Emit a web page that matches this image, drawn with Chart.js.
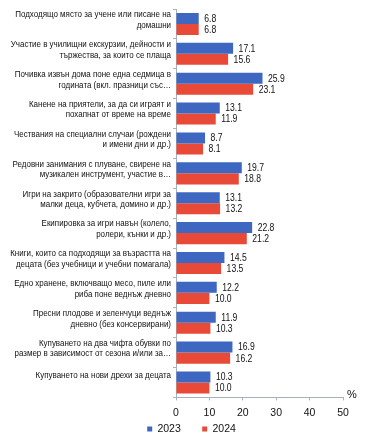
<!DOCTYPE html>
<html><head><meta charset="utf-8">
<script src="https://cdn.jsdelivr.net/npm/chart.js@4/dist/chart.umd.min.js"></script>
<style>html,body{margin:0;padding:0;background:#fff}#w{width:370px;height:437px}</style>
</head><body><div id="w"><canvas id="c" width="370" height="437"></canvas></div>
<script>
const categories = [
  ["Подходящо място за учене или писане на", "домашни"],
  ["Участие в училищни екскурзии, дейности и", "тържества, за които се плаща"],
  ["Почивка извън дома поне една седмица в", "годината (вкл. празници със…"],
  ["Канене на приятели, за да си играят и", "похапнат от време на време"],
  ["Чествания на специални случаи (рождени", "и имени дни и др.)"],
  ["Редовни занимания с плуване, свирене на", "музикален инструмент, участие в…"],
  ["Игри на закрито (образователни игри за", "малки деца, кубчета, домино и др.)"],
  ["Екипировка за игри навън (колело,", "ролери, кънки и др.)"],
  ["Книги, които са подходящи за възрастта на", "децата (без учебници и учебни помагала)"],
  ["Едно хранене, включващо месо, пиле или", "риба поне веднъж дневно"],
  ["Пресни плодове и зеленчуци веднъж", "дневно (без консервирани)"],
  ["Купуването на два чифта обувки по", "размер в зависимост от сезона и/или за…"],
  ["Купуването на нови дрехи за децата"]
];
const values2023 = [6.8, 17.1, 25.9, 13.1, 8.7, 19.7, 13.1, 22.8, 14.5, 12.2, 11.9, 16.9, 10.3];
const values2024 = [6.8, 15.6, 23.1, 11.9, 8.1, 18.8, 13.2, 21.2, 13.5, 10.0, 10.3, 16.2, 10.0];
const xTicks = [0, 10, 20, 30, 40, 50];
const unitLabel = "%";

const FONT = "'Liberation Sans', Arial, sans-serif";
const AXIS_COLOR = '#a9b1bd';

const customText = {
  id: 'customText',
  afterLayout(chart) {
    const lg = chart.legend;
    if (!lg) return;
    const P = lg.options.labels.padding;
    const dy = (chart.height - 8) - (lg.top + P + 5.25);
    lg.top += dy;
    lg.bottom = chart.height;
    lg.height = lg.bottom - lg.top;
    lg.left += 18; lg.right += 18;
  },
  afterDraw(chart) {
    const ctx = chart.ctx;
    const ys = chart.scales.y;
    const a = chart.chartArea;
    ctx.save();
    // category labels
    ctx.fillStyle = "#111";
    ctx.textAlign = "right";
    ctx.textBaseline = "middle";
    ctx.font = "9.5px " + FONT;
    const sx = 0.84;
    chart.data.labels.forEach((lab, i) => {
      const lines = Array.isArray(lab) ? lab : [lab];
      const c = ys.getPixelForTick(i);
      const lh = 10.5;
      const mid = lines.length > 1 ? c - 4 : c - 7;
      const y0 = mid - (lines.length - 1) * lh / 2;
      lines.forEach((ln, k) => {
        ctx.save();
        ctx.translate(171, y0 + k * lh);
        ctx.scale(sx, 1);
        ctx.fillText(ln, 0, 0);
        ctx.restore();
      });
    });
    // value labels
    ctx.textAlign = "left";
    ctx.font = "10.5px " + FONT;
    chart.data.datasets.forEach((ds, i) => {
      chart.getDatasetMeta(i).data.forEach((el, j) => {
        ctx.save();
        ctx.translate(el.x + 5.5, el.y + 0.5);
        ctx.scale(0.82, 1);
        ctx.fillText(ds.data[j].toFixed(1), 0, 0);
        ctx.restore();
      });
    });
    // unit
    ctx.font = "11px " + FONT;
    ctx.textBaseline = "alphabetic";
    ctx.fillText(unitLabel, a.right + 4, a.bottom + 1);
    ctx.restore();
  }
};

new Chart(document.getElementById('c'), {
  type: 'bar',
  data: {
    labels: categories,
    datasets: [
      { label: '2023', data: values2023, backgroundColor: '#3d67c1', categoryPercentage: 0.74, barPercentage: 1.0 },
      { label: '2024', data: values2024, backgroundColor: '#e84a37', categoryPercentage: 0.74, barPercentage: 1.0 }
    ]
  },
  options: {
    indexAxis: 'y',
    responsive: false,
    animation: false,
    devicePixelRatio: 1,
    layout: { padding: { left: 4, right: 27, top: 9, bottom: 0 } },
    plugins: {
      legend: {
        position: 'bottom',
        maxHeight: 12,
        labels: { boxWidth: 5, boxHeight: 5, font: { size: 10.5, family: FONT }, color: '#111', padding: 21.4 }
      },
      tooltip: { enabled: false }
    },
    scales: {
      x: {
        min: 0, max: 50,
        afterBuildTicks(s) { s.ticks = xTicks.map(v => ({ value: v })); },
        grid: { display: true, drawOnChartArea: false, drawTicks: true, tickLength: 3, color: AXIS_COLOR },
        border: { display: true, color: AXIS_COLOR },
        ticks: { font: { size: 10.5, family: FONT }, color: '#111', padding: 6 }
      },
      y: {
        afterFit(s) { s.width = 172; },
        grid: { display: true, drawOnChartArea: false, drawTicks: true, tickLength: 3, color: AXIS_COLOR },
        border: { display: true, color: AXIS_COLOR },
        ticks: { display: false }
      }
    }
  },
  plugins: [customText]
});
</script></body></html>
